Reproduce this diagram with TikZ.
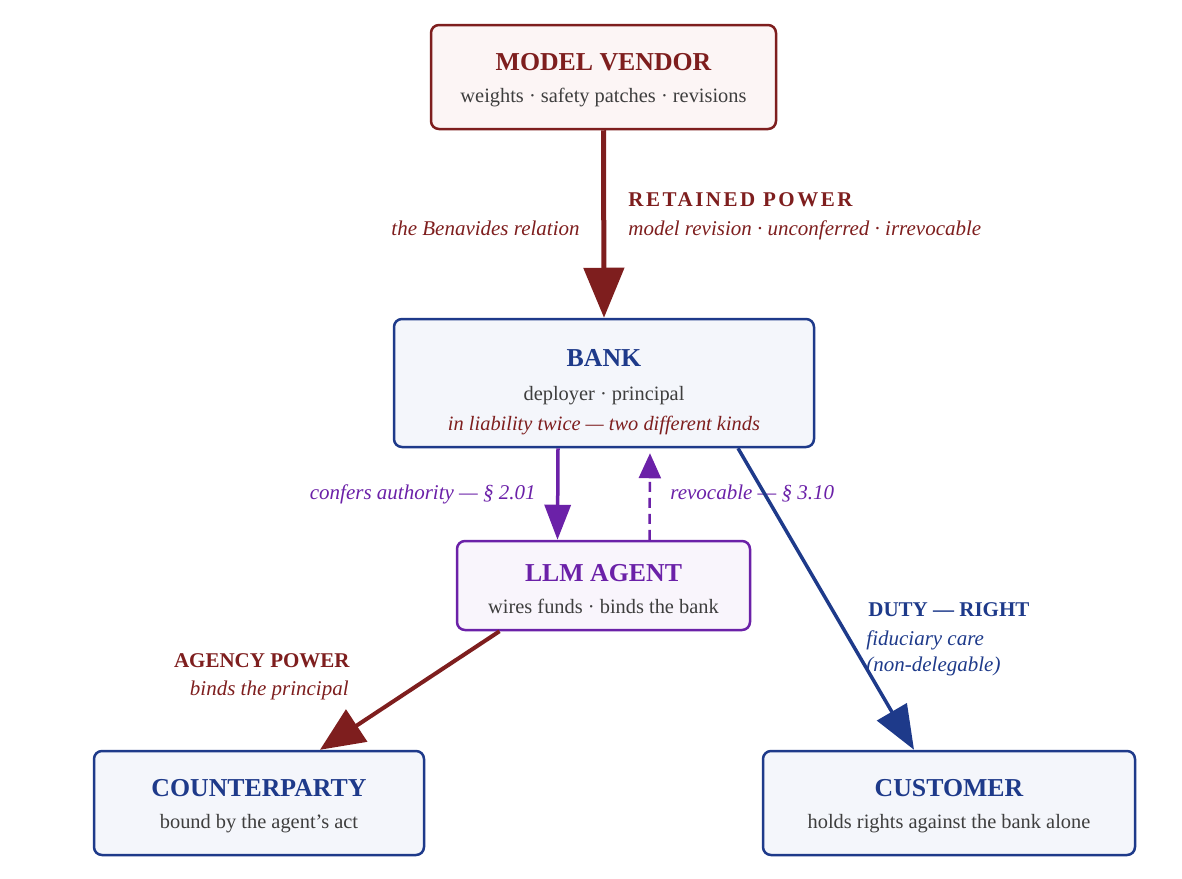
\documentclass[tikz,border=0pt]{standalone}
\usepackage{fontspec}
\setmainfont{Liberation Serif}
\usepackage{tikz}
\usetikzlibrary{calc, arrows.meta}

\definecolor{vred}{RGB}{126,30,30}
\definecolor{vnavy}{RGB}{30,58,138}
\definecolor{vpurple}{RGB}{107,33,168}
\definecolor{subgray}{RGB}{62,62,62}
\definecolor{fillred}{RGB}{252,245,245}
\definecolor{fillblue}{RGB}{244,246,251}
\definecolor{fillpurple}{RGB}{249,245,252}

\newcommand{\boxtitle}{\fontsize{12.9}{16}\bfseries\rule{0pt}{12pt}}
\newcommand{\boxsub}{\fontsize{10.2}{16}\selectfont\color{subgray}}
\newcommand{\lblbold}{\fontsize{10.5}{13}\bfseries}
\newcommand{\lblit}{\fontsize{10.5}{13}\itshape}

\begin{document}
\begin{tikzpicture}[x=0.5pt, y=-0.5pt,
  box/.style={draw, rounded corners=4pt, line width=1.25pt, align=center,
    inner sep=0pt, font=\fontsize{10.2}{16}\selectfont},
  lbl/.style={inner sep=0pt, align=left}]
  \useasboundingbox (0,0) rectangle (1182,878);
  % Boxes
  \node[box, draw=vred, fill=fillred, minimum width=172.5pt, minimum height=52pt,
    text=vred] (vendor) at (603.5,77)
    {{\boxtitle MODEL VENDOR}\\{\boxsub weights · safety patches · revisions}};
  \node[box, draw=vnavy, fill=fillblue, minimum width=210pt, minimum height=64pt,
    text=vnavy, font=\fontsize{10.2}{17}\selectfont] (bank) at (604,383)
    {{\boxtitle\rule{0pt}{17.5pt}BANK}\\{\boxsub deployer · principal}\\[-2pt]
     {\boxsub\itshape\color{vred} in liability twice — two different kinds}};
  \node[box, draw=vpurple, fill=fillpurple, minimum width=146.5pt, minimum height=44.5pt,
    text=vpurple] (agent) at (603.5,585.5)
    {{\boxtitle LLM AGENT}\\{\boxsub wires funds · binds the bank}};
  \node[box, draw=vnavy, fill=fillblue, minimum width=165pt, minimum height=52pt,
    text=vnavy] (counter) at (259,803)
    {{\boxtitle COUNTERPARTY}\\{\boxsub bound by the agent’s act}};
  \node[box, draw=vnavy, fill=fillblue, minimum width=186pt, minimum height=52pt,
    text=vnavy] (customer) at (949,803)
    {{\boxtitle CUSTOMER}\\{\boxsub holds rights against the bank alone}};

  % Retained power
  \draw[vred, line width=2.5pt, -{Triangle[length=25pt, width=20pt]}]
    (vendor.south) -- (bank.north);
  \node[lbl, text=vred, anchor=base west] (retained) at (628,206)
    {\lblbold\addfontfeature{LetterSpace=12}RETAINED POWER};
  \node[lbl, text=vred, anchor=base west] (revision) at (628,235)
    {\lblit model revision · unconferred · irrevocable};
  \node[lbl, text=vred, anchor=base east] (benavides) at (580,235)
    {\lblit the Benavides relation};

  % Authority, conferred and revoked
  \draw[vpurple, line width=1.75pt, -{Triangle[length=17.5pt, width=13pt]}]
    ([xshift=-23pt]bank.south) -- ([xshift=-23pt]agent.north);
  \draw[vpurple, line width=1.25pt, dash pattern=on 5pt off 3pt,
    -{Triangle[length=12.5pt, width=11pt]}, shorten >=2.5pt]
    ([xshift=23pt]agent.north) -- ([xshift=23pt]bank.south);
  \node[lbl, text=vpurple, anchor=base east] (confers) at (536,499)
    {\lblit confers authority — § 2.01};
  \node[lbl, text=vpurple, anchor=base west] (revocable) at (670,499)
    {\lblit revocable — § 3.10};

  % Duty to the customer
  \draw[vnavy, line width=1.75pt, -{Triangle[length=22pt, width=17pt]}]
    ([xshift=67pt]bank.south) -- ([xshift=-17.5pt]customer.north);
  \node[lbl, text=vnavy, anchor=base west] (duty) at (868,616)
    {\lblbold DUTY — RIGHT};
  \node[lbl, text=vnavy, anchor=base west] (fiduciary) at (866,645)
    {\lblit fiduciary care};
  \node[lbl, text=vnavy, anchor=base west] (nondeleg) at (866,671)
    {\lblit (non-delegable)};

  % Agency power
  \draw[vred, line width=2pt, -{Triangle[length=22pt, width=19pt]}]
    ([xshift=-52pt]agent.south) -- ([xshift=30.5pt]counter.north);
  \node[lbl, text=vred, anchor=base east] (agency) at (350,667)
    {\lblbold AGENCY POWER};
  \node[lbl, text=vred, anchor=base east] (binds) at (349,695)
    {\lblit binds the principal};
\end{tikzpicture}
\end{document}
